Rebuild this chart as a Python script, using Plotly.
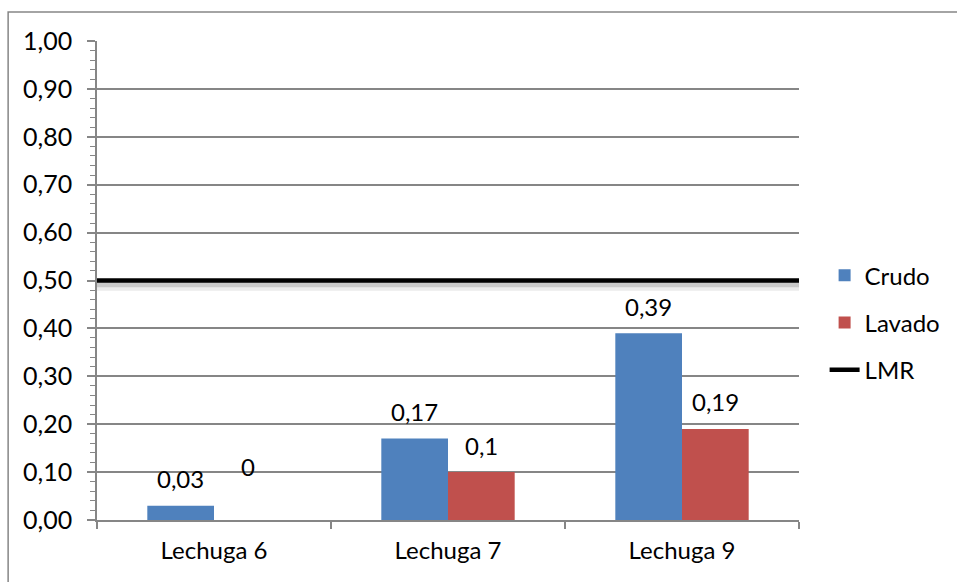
import plotly.graph_objects as go

# Residue levels per lettuce sample (mg/Kg)
categories = ["Lechuga 6", "Lechuga 7", "Lechuga 9"]
crudo = [0.03, 0.17, 0.39]
lavado = [0.0, 0.10, 0.19]
lmr_value = 0.50
y_ticks = [0.0, 0.1, 0.2, 0.3, 0.4, 0.5, 0.6, 0.7, 0.8, 0.9, 1.0]

FONT = "Lato"
GRID = "#868686"
BLUE = "#4F81BD"
RED = "#C0504D"


def fmt(v):
    s = f"{v:.2f}".rstrip("0").rstrip(".")
    return s.replace(".", ",") if s else "0"


fig = go.Figure()

fig.add_trace(go.Bar(
    name="Crudo", x=categories, y=crudo, marker_color=BLUE,
    marker_line_width=0, legendgroup="a",
))
fig.add_trace(go.Bar(
    name="Lavado", x=categories, y=lavado, marker_color=RED,
    marker_line_width=0, legendgroup="b",
))
# Soft drop shadow under the limit line (same value on slightly offset scales)
for axis, alpha, w in (("y2", 0.08, 9), ("y3", 0.14, 6)):
    fig.add_trace(go.Scatter(
        x=[0, 1.018], y=[lmr_value, lmr_value], xaxis="x2", yaxis=axis,
        mode="lines", line=dict(color=f"rgba(0,0,0,{alpha})", width=w),
        cliponaxis=False, showlegend=False, hoverinfo="skip",
    ))
# Maximum residue limit drawn across the full plot width
fig.add_trace(go.Scatter(
    name="LMR", x=[0, 1.018], y=[lmr_value, lmr_value], xaxis="x2",
    mode="lines", line=dict(color="black", width=4.5),
    cliponaxis=False, legendgroup="c",
))

# Value labels above each bar
annotations = []
for series, shift in ((crudo, -33.5), (lavado, 33.5)):
    for cat, v in zip(categories, series):
        annotations.append(dict(
            x=cat, y=v, xref="x", yref="y", text=fmt(v), showarrow=False,
            xshift=shift, yshift=54 if v == 0 else 27,
            font=dict(family=FONT, size=24, color="black"),
        ))

fig.update_layout(
    width=957, height=582,
    margin=dict(l=97, r=157, t=41, b=62),
    paper_bgcolor="white", plot_bgcolor="white",
    barmode="group", bargap=0.43, bargroupgap=0,
    separators=",.",
    font=dict(family=FONT, size=24, color="black"),
    annotations=annotations,
    showlegend=True,
    legend=dict(
        x=1.035, y=0.412, xanchor="left", yanchor="middle",
        traceorder="grouped", tracegroupgap=13,
        font=dict(family=FONT, size=24, color="black"),
        itemwidth=30,
    ),
    xaxis=dict(
        type="category", showgrid=False, showline=True, linecolor=GRID,
        linewidth=1.5, ticks="outside", tickson="boundaries", ticklen=7,
        tickcolor=GRID, tickwidth=1.5, ticklabelstandoff=8,
        tickfont=dict(family=FONT, size=24, color="black"),
    ),
    xaxis2=dict(overlaying="x", range=[0, 1], visible=False),
    yaxis=dict(
        range=[0, 1.0], tickvals=y_ticks, tickformat=".2f",
        showgrid=True, gridcolor=GRID, gridwidth=1.5,
        showline=True, linecolor=GRID, linewidth=1.5,
        ticks="outside", ticklen=8, tickcolor=GRID, tickwidth=1.5,
        ticklabelstandoff=10,
        minor=dict(dtick=0.02, ticks="outside", ticklen=5,
                   tickcolor=GRID, tickwidth=1.2, showgrid=False),
        tickfont=dict(family=FONT, size=25, color="black"),
        zeroline=False,
    ),
    yaxis2=dict(overlaying="y", range=[0.012, 1.012], visible=False),
    yaxis3=dict(overlaying="y", range=[0.008, 1.008], visible=False),
    shapes=[dict(
        type="rect", xref="paper", yref="paper",
        x0=-0.1266, x1=1.4, y0=-0.2, y1=1.0605,
        line=dict(color=GRID, width=1.5), layer="below",
    )],
)

fig.write_html("out.html")
